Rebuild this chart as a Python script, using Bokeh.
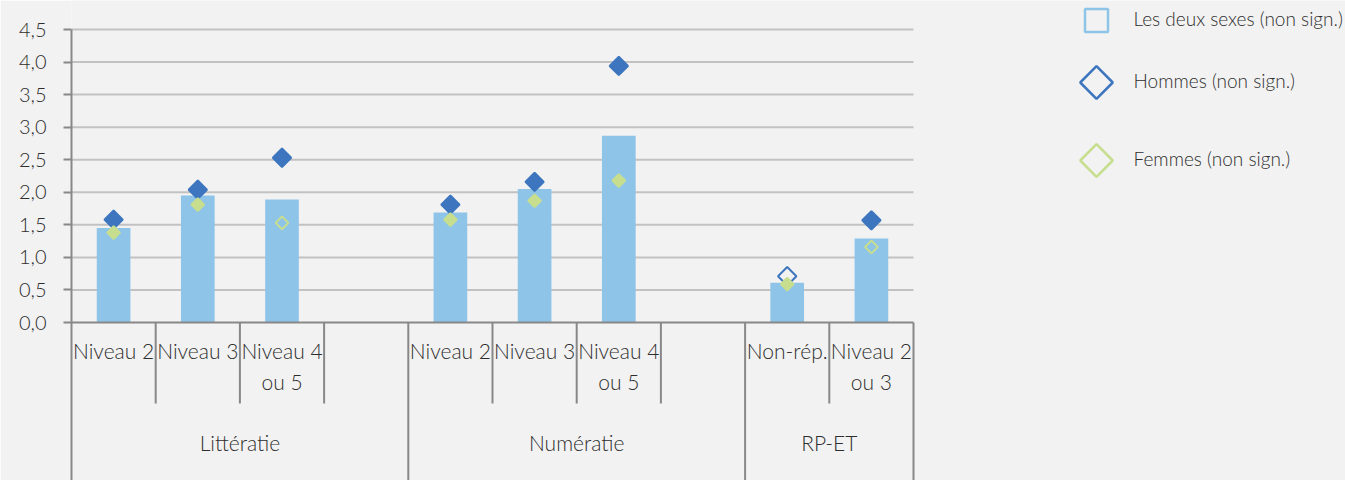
import numpy as np
from bokeh.plotting import figure
from bokeh.models import Range1d, FixedTicker, CustomJSTickFormatter
from bokeh.core.properties import value
from bokeh.embed import file_html
from bokeh.resources import INLINE

# ---------------- data ----------------
groups = ["Littératie", "Numératie", "RP-ET"]
group_slots = [4, 4, 2]          # number of category slots per group (incl. blank)
level_line1 = ["Niveau 2", "Niveau 3", "Niveau 4",
               "Niveau 2", "Niveau 3", "Niveau 4",
               "Non-rép.", "Niveau 2"]
level_line2 = ["", "", "ou 5",
               "", "", "ou 5",
               "", "ou 3"]
level_group = [0, 0, 0, 1, 1, 1, 2, 2]
both_sexes = [1.45, 1.95, 1.89, 1.69, 2.05, 2.87, 0.61, 1.29]
men = [1.58, 2.04, 2.53, 1.81, 2.16, 3.94, 0.71, 1.57]
women = [1.38, 1.81, 1.53, 1.58, 1.87, 2.18, 0.59, 1.16]
men_sig = [True, True, True, True, True, True, False, True]
women_sig = [True, True, False, True, True, True, True, False]
y_ticks = [0.0, 0.5, 1.0, 1.5, 2.0, 2.5, 3.0, 3.5, 4.0, 4.5]
legend_labels = ["Les deux sexes (non sign.)", "Hommes (non sign.)", "Femmes (non sign.)"]

# ---------------- style ----------------
FONT = "Lato Light, Lato"
BG = "#f2f2f2"
TXT = "#2e2e2e"
AXIS = "#888888"
GRID = "#c2c2c2"
BAR = "#8ec4e7"
BLUE = "#3d76be"
GREEN = "#c6de8e"

W, H = 1345, 480
LEFT = 71
SLOT_PX = 84.2
UNIT_PX = 293 / 4.5
ZERO_PX = 322
frame_w = W - LEFT
y_top = 4.5 + (ZERO_PX - 4.5 * UNIT_PX) / UNIT_PX
y_bot = -(H - ZERO_PX) / UNIT_PX


def xd(page_x):
    return (page_x - LEFT) / SLOT_PX


def yd(page_y):
    return (ZERO_PX - page_y) / UNIT_PX


# slot positions
starts = np.cumsum([0] + group_slots[:-1])
n_levels = [level_group.count(g) for g in range(len(groups))]
centers = []
for g in range(len(groups)):
    for k in range(n_levels[g]):
        centers.append(starts[g] + k + 0.5)
centers = np.array(centers)
total_slots = sum(group_slots)

p = figure(width=W, height=H, output_backend="svg", toolbar_location=None,
           x_range=Range1d(0, frame_w / SLOT_PX), y_range=Range1d(y_bot, y_top),
           x_axis_location=None, title=None,
           min_border_left=LEFT, min_border_top=0, min_border_right=0, min_border_bottom=0)
p.background_fill_color = BG
p.border_fill_color = BG
p.outline_line_color = None
p.grid.visible = False

ax = p.yaxis[0]
ax.ticker = FixedTicker(ticks=y_ticks)
ax.bounds = (y_bot, 4.5)
ax.formatter = CustomJSTickFormatter(code="return tick.toFixed(1).replace('.', ',');")
ax.axis_line_color = AXIS
ax.axis_line_width = 2
ax.major_tick_line_color = AXIS
ax.major_tick_line_width = 2
ax.major_tick_in = 0
ax.major_tick_out = 8
ax.minor_tick_line_color = None
ax.major_label_standoff = 17
ax.major_label_text_font = FONT
ax.major_label_text_font_size = "20px"
ax.major_label_text_color = TXT

# gridlines (only over the category area)
gy = [t for t in y_ticks if t > 0]
p.segment(x0=[0] * len(gy), x1=[total_slots] * len(gy), y0=gy, y1=gy,
          line_color=GRID, line_width=2)

# bars
p.vbar(x=centers, top=both_sexes, bottom=0, width=0.4, fill_color=BAR, line_color=None)

# x axis line
p.segment(x0=[0], x1=[total_slots], y0=[0], y1=[0], line_color=AXIS, line_width=2)

# separators
group_edges = list(np.cumsum(group_slots))
sub_edges = [i for i in range(1, total_slots) if i not in group_edges]
p.segment(x0=sub_edges, x1=sub_edges, y0=[0] * len(sub_edges), y1=[yd(403)] * len(sub_edges),
          line_color=AXIS, line_width=2)
p.segment(x0=group_edges, x1=group_edges, y0=[0] * len(group_edges), y1=[y_bot] * len(group_edges),
          line_color=AXIS, line_width=2)

# markers
p.scatter(x=centers, y=men, marker="square", angle=np.pi / 4, size=13,
          fill_color=BLUE, fill_alpha=[1.0 if s else 0.0 for s in men_sig],
          line_color=BLUE, line_width=2)
p.scatter(x=centers, y=women, marker="square", angle=np.pi / 4, size=9,
          fill_color=GREEN, fill_alpha=[1.0 if s else 0.0 for s in women_sig],
          line_color=GREEN, line_width=2)

# category labels
LBL = "21px"
p.text(x=centers, y=[yd(350)] * len(centers), text=level_line1, text_align="center",
       text_baseline="alphabetic", text_font=value(FONT), text_font_size=LBL, text_color=TXT)
p.text(x=centers, y=[yd(381)] * len(centers), text=level_line2, text_align="center",
       text_baseline="alphabetic", text_font=value(FONT), text_font_size=LBL, text_color=TXT)
g_centers = [starts[g] + group_slots[g] / 2 for g in range(len(groups))]
p.text(x=g_centers, y=[yd(442)] * len(groups), text=groups, text_align="center",
       text_baseline="alphabetic", text_font=value(FONT), text_font_size=LBL, text_color=TXT)

# legend (drawn manually)
p.scatter(x=[xd(1096)], y=[yd(20)], marker="square", size=23, fill_alpha=0,
          line_color=BAR, line_width=2.5)
p.scatter(x=[xd(1096), xd(1096)], y=[yd(82), yd(160)], marker="square", angle=np.pi / 4,
          size=23, fill_alpha=0, line_color=[BLUE, GREEN], line_width=2.5)
p.text(x=[xd(1133)] * 3, y=[yd(17.5), yd(80), yd(158)], text=legend_labels,
       text_align="left", text_baseline="alphabetic", text_font=value(FONT),
       text_font_size="19px", text_color=TXT)

open("out.html", "w").write(file_html(p, INLINE))
